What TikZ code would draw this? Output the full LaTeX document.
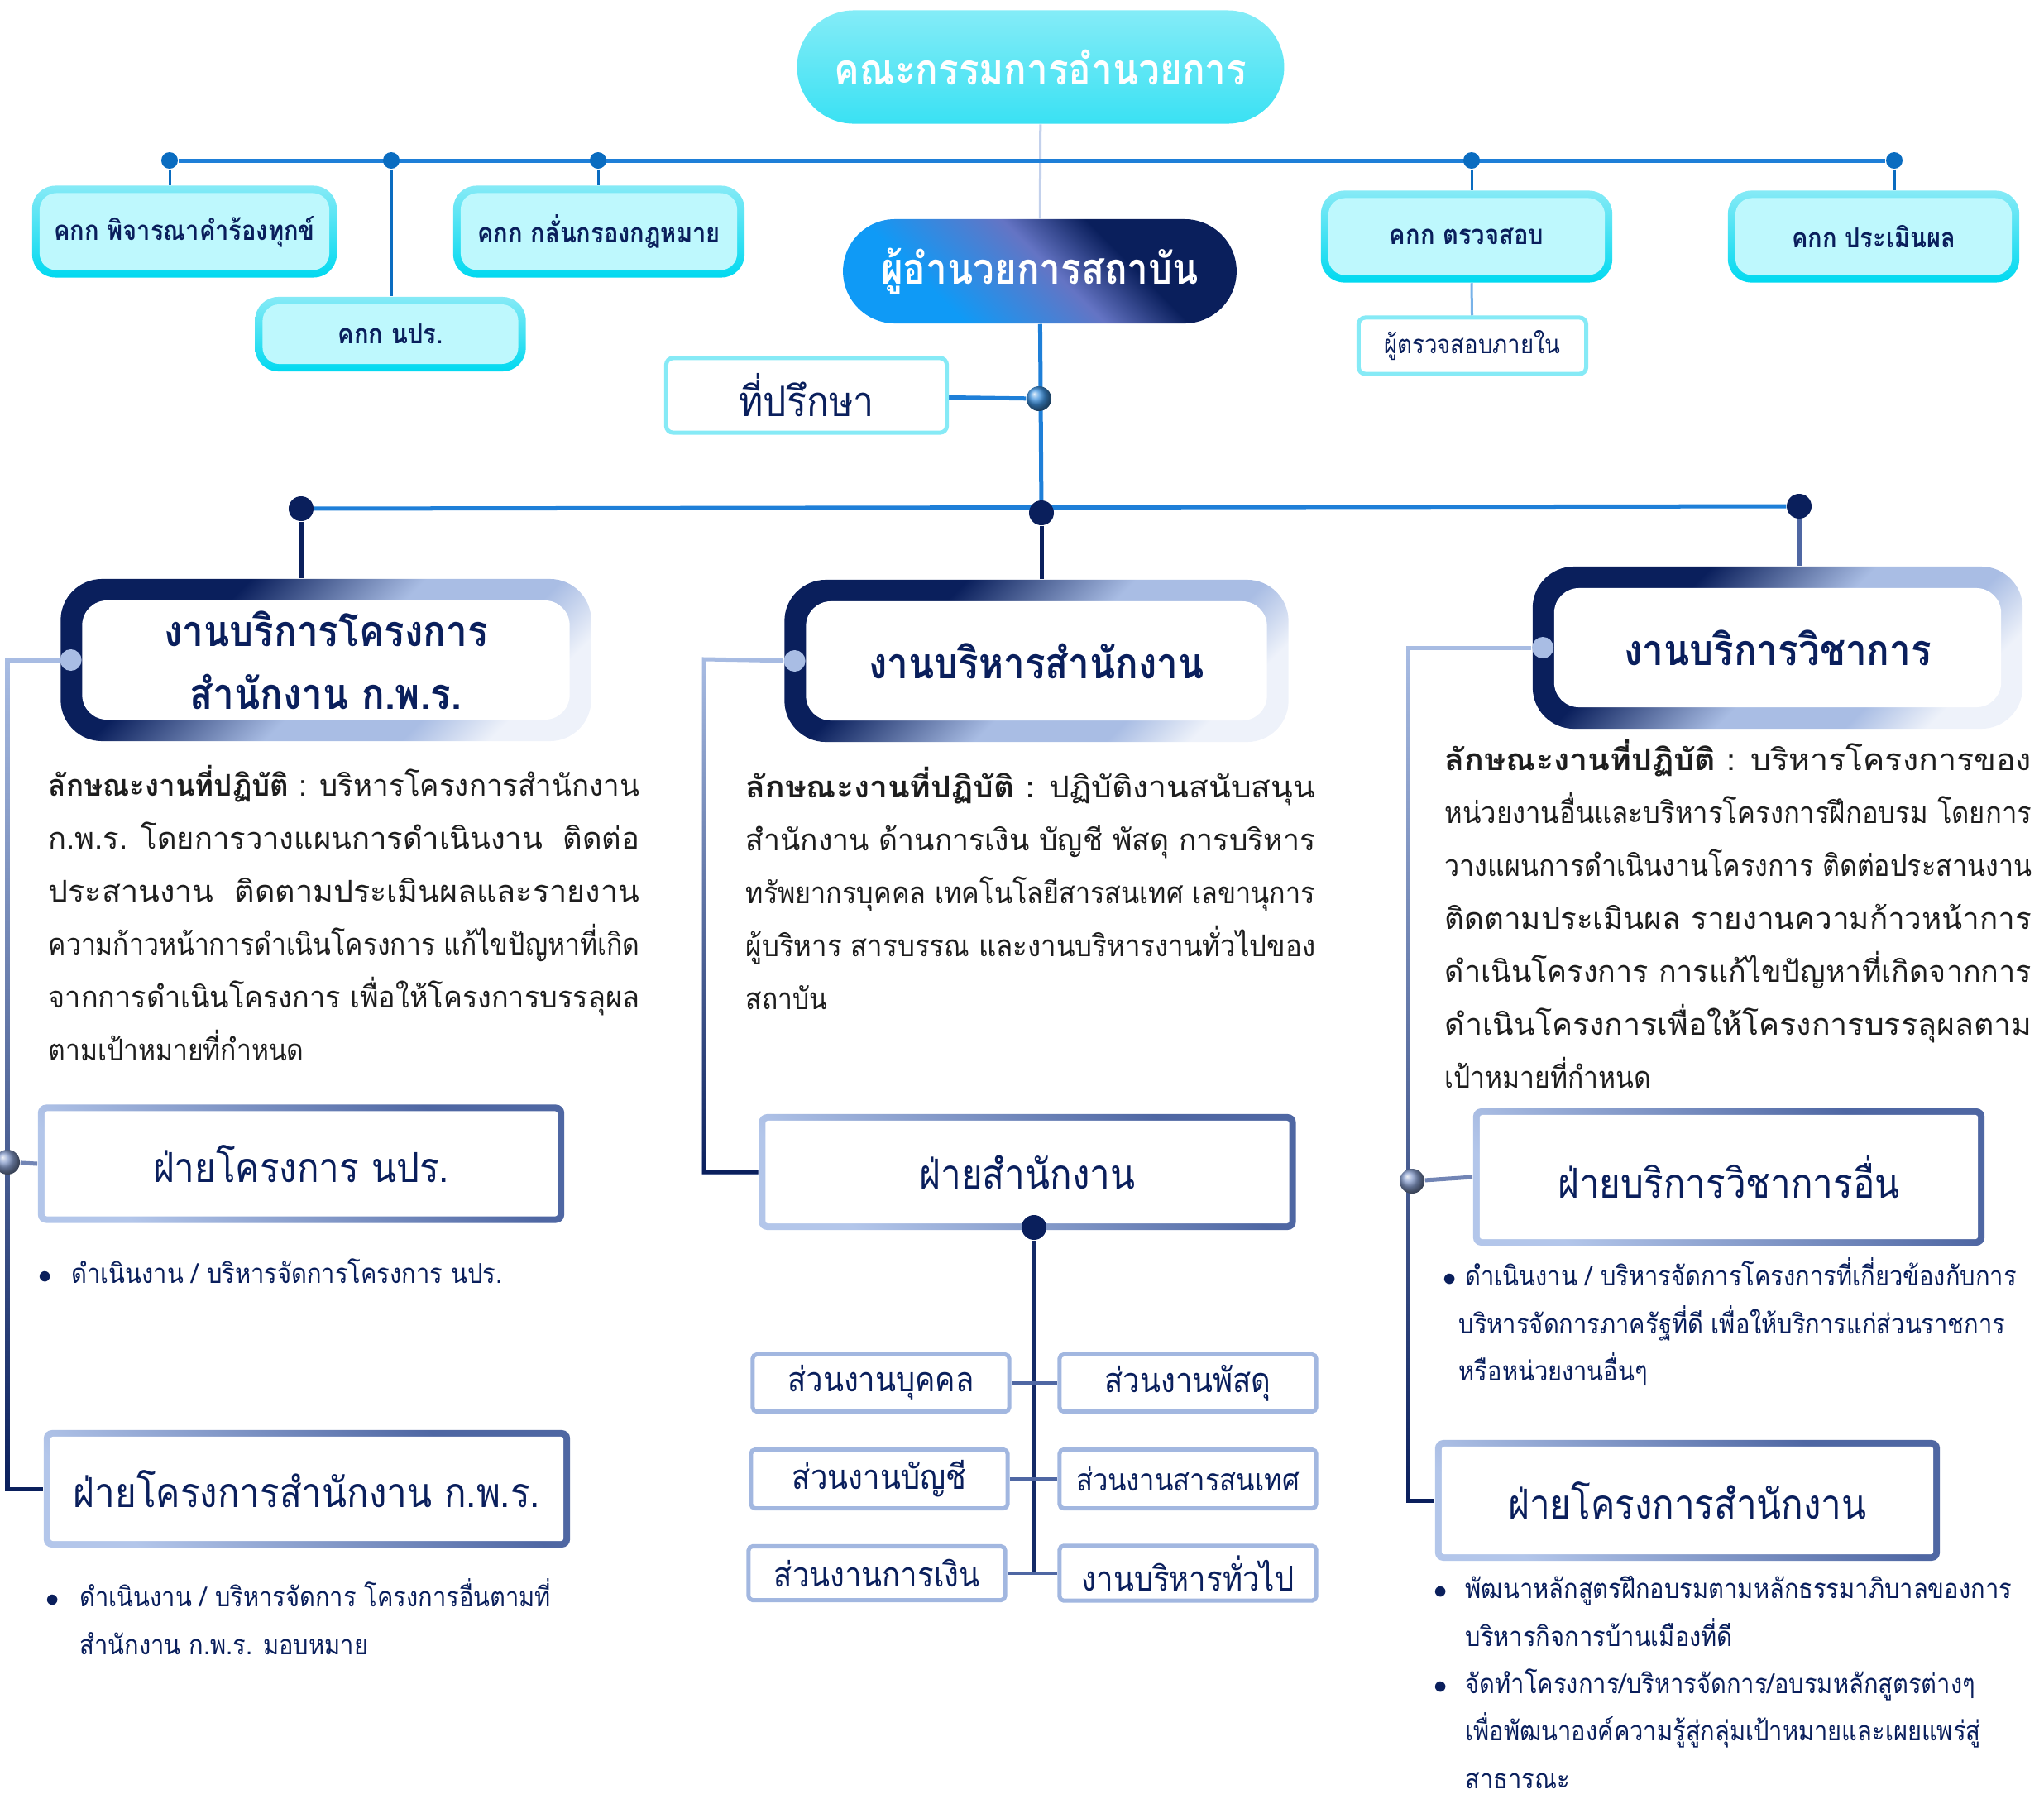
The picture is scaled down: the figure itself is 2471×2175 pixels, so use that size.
\documentclass[tikz,border=0pt]{standalone}
\usepackage{fontspec}
\setmainfont[Script=Thai, FakeStretch=0.88]{Loma}
\usepackage{xcolor}
\usepackage{graphicx}
\usepackage{tikz}
\usetikzlibrary{positioning, calc, shapes.misc, fadings, backgrounds}
\definecolor{navy}{RGB}{10, 31, 92}
\definecolor{busblue}{RGB}{30, 127, 216}
\definecolor{dotblue}{RGB}{10, 108, 192}
\definecolor{cyanbd}{RGB}{0, 217, 240}
\definecolor{cyanlt}{RGB}{134, 234, 246}
\definecolor{cyanfill}{RGB}{190, 248, 253}
\definecolor{boardtop}{RGB}{132, 236, 247}
\definecolor{boardbot}{RGB}{58, 225, 243}
\definecolor{dirblue}{RGB}{15, 154, 246}
\definecolor{dirpurple}{RGB}{100, 116, 196}
\definecolor{secmid}{RGB}{169, 189, 228}
\definecolor{seclight}{RGB}{238, 242, 250}
\definecolor{subdark}{RGB}{79, 103, 163}
\definecolor{sublight}{RGB}{179, 198, 234}
\definecolor{unitbd}{RGB}{162, 183, 224}
\definecolor{bodytext}{RGB}{30, 30, 30}
\pgfdeclarehorizontalshading{secshade}{100bp}{color(0bp)=(navy); color(34bp)=(navy); color(52bp)=(secmid); color(66bp)=(secmid); color(75bp)=(seclight); color(100bp)=(seclight)}
\pgfdeclarehorizontalshading{subshade}{100bp}{color(0bp)=(sublight); color(25bp)=(sublight); color(70bp)=(subdark); color(100bp)=(subdark)}
\pgfdeclarehorizontalshading{dirshade}{100bp}{color(0bp)=(dirblue); color(32bp)=(dirblue); color(52bp)=(dirpurple); color(64bp)=(navy); color(100bp)=(navy)}
\newcommand{\innerfill}[3]{\fill[#1, rounded corners=#3]
  ([shift={(#2,-#2)}]path picture bounding box.north west) rectangle
  ([shift={(-#2,#2)}]path picture bounding box.south east);}
\newcommand{\bitem}[2]{\makebox[#1][l]{$\bullet$}#2}
\newcommand{\jl}[2]{\resizebox{#1}{\height}{#2}}
\newcommand{\lakshana}{\textbf{ลักษณะงานที่ปฏิบัติ}}

\begin{document}
\begin{tikzpicture}[x=0.01cm, y=-0.01cm,
  board/.style={rounded rectangle, top color=boardtop, bottom color=boardbot,
                minimum width=6.12cm, minimum height=1.37cm, text=white,
                font=\fontsize{14.8}{18}\selectfont\bfseries},
  director/.style={rounded rectangle, shade, shading=dirshade, shading angle=45,
                minimum width=4.99cm, minimum height=1.26cm, text=white,
                font=\fontsize{14.8}{18}\selectfont\bfseries},
  cmte/.style={rectangle, rounded corners=0.28cm, top color=cyanlt, bottom color=cyanbd,
               minimum height=1.11cm, text=navy, font=\fontsize{9.4}{12}\selectfont\bfseries,
               path picture={\innerfill{cyanfill}{0.09cm}{0.2cm}}},
  cbox/.style={rectangle, rounded corners=0.08cm, draw=cyanlt, line width=0.05cm,
               fill=white, text=navy},
  secbox/.style={rectangle, rounded corners=0.5cm, shade, shading=secshade, shading angle=-45,
                 minimum height=1.96cm, text=navy, align=center,
                 font=\fontsize{14.8}{21.6}\selectfont\bfseries,
                 path picture={\innerfill{white}{0.26cm}{0.3cm}}},
  subbox/.style={rectangle, rounded corners=0.1cm, shade, shading=subshade, shading angle=45,
                 text=navy, font=\fontsize{14.2}{17}\selectfont,
                 path picture={\innerfill{white}{0.08cm}{0.03cm}}},
  unit/.style={rectangle, rounded corners=0.05cm, draw=unitbd, line width=0.05cm,
               fill=white, minimum width=3.1cm, text=navy, font=\fontsize{11.8}{14}\selectfont},
  desc/.style={anchor=north west, inner sep=0pt, align=left, text=bodytext,
               font=\fontsize{10.3}{18.2}\selectfont},
  bullets/.style={anchor=north west, inner sep=0pt, align=left, text=navy,
                  font=\fontsize{9.4}{16.3}\selectfont},
  bdot/.style={circle, fill=dotblue, inner sep=0pt, minimum size=0.2cm},
  ndot/.style={circle, fill=navy, inner sep=0pt, minimum size=0.3cm},
  cdot/.style={circle, fill=secmid, inner sep=0pt, minimum size=0.26cm},
  ball/.style={circle, inner sep=0pt, minimum size=0.3cm, ball color=#1},
  bus/.style={line width=0.05cm, draw=busblue},
  link/.style={line width=0.03cm, draw=dotblue},
  rail/.style={line width=0.05cm}
]
  \useasboundingbox (0,0) rectangle (2471,2175);

  % ── Top level ──────────────────────────────────────────────────────────────
  \node[board]    (board) at (1258, 81)  {คณะกรรมการอำนวยการ};
  \node[director] (dir)   at (1257, 328) {ผู้อำนวยการสถาบัน};

  % ── Committees ─────────────────────────────────────────────────────────────
  \node[cmte, minimum width=3.68cm] (cPet) at (223, 280) {คกก พิจารณาคำร้องทุกข์};
  \node[cmte, minimum width=3.27cm, minimum height=0.9cm] (cNpr) at (472, 404) {คกก นปร.};
  \node[cmte, minimum width=3.52cm] (cLaw) at (724, 280) {คกก กลั่นกรองกฎหมาย};
  \node[cmte, minimum width=3.52cm] (cAud) at (1773, 286) {คกก ตรวจสอบ};
  \node[cmte, minimum width=3.52cm] (cEva) at (2265, 286) {คกก ประเมินผล};
  \node[cbox, minimum width=2.75cm, minimum height=0.68cm,
        font=\fontsize{8.9}{11}\selectfont] (inAud) at (1780, 418) {ผู้ตรวจสอบภายใน};
  \node[cbox, minimum width=3.39cm, minimum height=0.9cm,
        font=\fontsize{14.4}{17}\selectfont] (adv) at (975, 478) {ที่ปรึกษา};

  \node[bdot] (b1) at (205, 194)  {};
  \node[bdot] (b2) at (473, 194)  {};
  \node[bdot] (b3) at (723, 194)  {};
  \node[bdot] (b4) at (1779, 194) {};
  \node[bdot] (b5) at (2290, 194) {};
  \node[ball=busblue!85!white] (advDot) at (1256, 482) {};

  % ── Sections ───────────────────────────────────────────────────────────────
  \node[ndot] (lDot) at (364, 615)  {};
  \node[ndot] (mDot) at (1259, 620) {};
  \node[ndot] (rDot) at (2175, 612) {};

  \node[secbox, minimum width=6.41cm] (secL) at (394, 798)
    {งานบริการโครงการ\\สำนักงาน ก.พ.ร.};
  \node[secbox, minimum width=6.09cm] (secM) at (1253, 799) {งานบริหารสำนักงาน};
  \node[secbox, minimum width=5.92cm] (secR) at (2149, 783) {งานบริการวิชาการ};

  \node[cdot] (secLdot) at ([xshift=0.13cm]secL.west) {};
  \node[cdot] (secMdot) at ([xshift=0.13cm]secM.west) {};
  \node[cdot] (secRdot) at ([xshift=0.13cm]secR.west) {};
  \coordinate (railL) at (9, 798);
  \coordinate (railM) at (851, 797);
  \coordinate (railR) at (1702, 783);

  % ── Descriptions ───────────────────────────────────────────────────────────
  \node[desc] (descL) at (58, 925)
    {\jl{7.14cm}{\lakshana\ : บริหารโครงการสำนักงาน}\\
     \jl{7.14cm}{ก.พ.ร. โดยการวางแผนการดำเนินงาน\ \ ติดต่อ}\\
     \jl{7.14cm}{ประสานงาน\ \ ติดตามประเมินผลและรายงาน}\\
     \jl{7.14cm}{ความก้าวหน้าการดำเนินโครงการ แก้ไขปัญหาที่เกิด}\\
     \jl{7.14cm}{จากการดำเนินโครงการ เพื่อให้โครงการบรรลุผล}\\
     ตามเป้าหมายที่กำหนด};
  \node[desc] (descM) at (901, 927)
    {\jl{6.88cm}{\textbf{ลักษณะงานที่ปฏิบัติ :} ปฏิบัติงานสนับสนุน}\\
     \jl{6.88cm}{สำนักงาน ด้านการเงิน บัญชี พัสดุ การบริหาร}\\
     \jl{6.88cm}{ทรัพยากรบุคคล เทคโนโลยีสารสนเทศ เลขานุการ}\\
     \jl{6.88cm}{ผู้บริหาร สารบรรณ และงานบริหารงานทั่วไปของ}\\
     สถาบัน};
  \node[desc] (descR) at (1746, 894)
    {\jl{7.09cm}{\lakshana\ : บริหารโครงการของ}\\
     \jl{7.09cm}{หน่วยงานอื่นและบริหารโครงการฝึกอบรม โดยการ}\\
     \jl{7.09cm}{วางแผนการดำเนินงานโครงการ ติดต่อประสานงาน}\\
     \jl{7.09cm}{ติดตามประเมินผล รายงานความก้าวหน้าการ}\\
     \jl{7.09cm}{ดำเนินโครงการ การแก้ไขปัญหาที่เกิดจากการ}\\
     \jl{7.09cm}{ดำเนินโครงการเพื่อให้โครงการบรรลุผลตาม}\\
     เป้าหมายที่กำหนด};

  % ── Divisions ──────────────────────────────────────────────────────────────
  \node[subbox, minimum width=6.36cm, minimum height=1.43cm] (subL1) at (364, 1407)
    {ฝ่ายโครงการ นปร.};
  \node[subbox, minimum width=6.36cm, minimum height=1.42cm] (subL2) at (371, 1800)
    {ฝ่ายโครงการสำนักงาน ก.พ.ร.};
  \node[subbox, minimum width=6.49cm, minimum height=1.40cm] (subM) at (1242, 1417)
    {ฝ่ายสำนักงาน};
  \node[subbox, minimum width=6.18cm, minimum height=1.66cm] (subR1) at (2090, 1423)
    {ฝ่ายบริการวิชาการอื่น};
  \node[subbox, minimum width=6.10cm, minimum height=1.46cm] (subR2) at (2040, 1814)
    {ฝ่ายโครงการสำนักงาน};

  \node[ball=secmid!60!subdark] (brL) at (9, 1405)    {};
  \node[ball=secmid!60!subdark] (brR) at (1707, 1428) {};
  \node[ndot] (sDot) at (1250, 1484) {};

  % ── Units of the office division ───────────────────────────────────────────
  \node[unit, minimum height=0.69cm] (u1) at (1065, 1672) {ส่วนงานบุคคล};
  \node[unit, minimum height=0.69cm] (u2) at (1436, 1672) {ส่วนงานพัสดุ};
  \node[unit, minimum height=0.71cm] (u3) at (1063, 1788) {ส่วนงานบัญชี};
  \node[unit, minimum height=0.71cm, font=\fontsize{10.6}{13}\selectfont] (u4) at (1436, 1788)
    {ส่วนงานสารสนเทศ};
  \node[unit, minimum height=0.65cm] (u5) at (1060, 1902) {ส่วนงานการเงิน};
  \node[unit, minimum height=0.65cm] (u6) at (1436, 1902) {งานบริหารทั่วไป};

  % ── Bullet notes ───────────────────────────────────────────────────────────
  \node[bullets] (bulL1) at (46, 1521)
    {\bitem{0.40cm}{ดำเนินงาน / บริหารจัดการโครงการ นปร.}};
  \node[bullets] (bulL2) at (55, 1908)
    {\bitem{0.41cm}{ดำเนินงาน / บริหารจัดการ โครงการอื่นตามที่}\\
     \hspace*{0.41cm}สำนักงาน ก.พ.ร. มอบหมาย};
  \node[bullets] (bulR1) at (1744, 1520)
    {\bitem{0.27cm}{ดำเนินงาน / บริหารจัดการโครงการที่เกี่ยวข้องกับการ}\\
     \hspace*{0.19cm}บริหารจัดการภาครัฐที่ดี เพื่อให้บริการแก่ส่วนราชการ\\
     \hspace*{0.19cm}หรือหน่วยงานอื่นๆ};
  \node[bullets] (bulR2) at (1733, 1905)
    {\bitem{0.38cm}{พัฒนาหลักสูตรฝึกอบรมตามหลักธรรมาภิบาลของการ}\\
     \hspace*{0.38cm}บริหารกิจการบ้านเมืองที่ดี\\
     \bitem{0.38cm}{จัดทำโครงการ/บริหารจัดการ/อบรมหลักสูตรต่างๆ}\\
     \hspace*{0.38cm}เพื่อพัฒนาองค์ความรู้สู่กลุ่มเป้าหมายและเผยแพร่สู่\\
     \hspace*{0.38cm}สาธารณะ};

  % ── Connections ────────────────────────────────────────────────────────────
  \begin{scope}[on background layer]
    \draw[line width=0.03cm, draw=secmid!70] (board) -- (dir);
    \draw[bus] (b1) -- (b5);
    \draw[link] (b1) -- (b1 |- cPet.north);
    \draw[link] (b2) -- (b2 |- cNpr.north);
    \draw[link] (b3) -- (b3 |- cLaw.north);
    \draw[link] (b4) -- (b4 |- cAud.north);
    \draw[link] (b5) -- (b5 |- cEva.north);
    \draw[line width=0.03cm, draw=busblue!60] (cAud.south -| b4) -- (inAud);

    \draw[rail, draw=busblue] (dir) -- (mDot);
    \draw[rail, draw=busblue] (adv) -- (advDot);
    \draw[bus] (lDot) -- (rDot);
    \draw[rail, draw=navy] (lDot) -- (lDot |- secL.north);
    \draw[rail, draw=navy] (mDot) -- (mDot |- secM.north);
    \draw[rail, draw=subdark] (rDot) -- (rDot |- secR.north);

    \draw[rail, draw=secmid] (secLdot) -- (railL) |- (subL2.west);
    \draw[rail, draw=navy, path fading=north] (secLdot) -- (railL) |- (subL2.west);
    \draw[rail, draw=secmid] (secMdot) -- (railM) |- (subM.west);
    \draw[rail, draw=navy, path fading=north] (secMdot) -- (railM) |- (subM.west);
    \draw[rail, draw=secmid] (secRdot) -- (railR) |- (subR2.west);
    \draw[rail, draw=navy, path fading=north] (secRdot) -- (railR) |- (subR2.west);
    \draw[rail, draw=subdark!80] (brL) -- (subL1.west);
    \draw[rail, draw=subdark!80] (brR) -- (subR1.west);

    \draw[rail, draw=navy!85!subdark] (sDot) -- (sDot |- u5.east);
    \draw[line width=0.04cm, draw=subdark] (u1.east) -- (u2.west);
    \draw[line width=0.04cm, draw=subdark] (u3.east) -- (u4.west);
    \draw[line width=0.04cm, draw=subdark] (u5.east) -- (u6.west);
  \end{scope}
\end{tikzpicture}
\end{document}
